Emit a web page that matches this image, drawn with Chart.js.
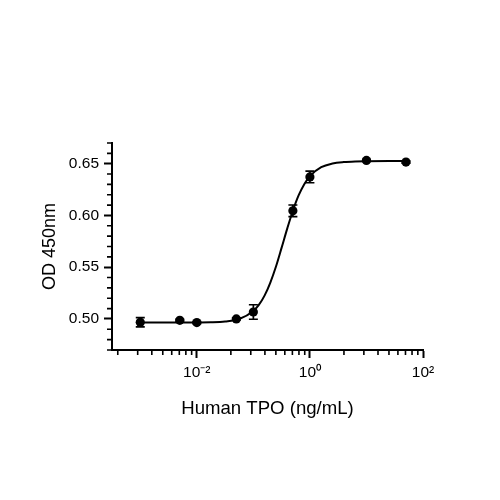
<!DOCTYPE html>
<html>
<head>
<meta charset="utf-8">
<script src="https://cdn.jsdelivr.net/npm/chart.js@4.4.1/dist/chart.umd.min.js"></script>
<style>
html, body { margin: 0; padding: 0; background: #fff; }
#wrap { width: 500px; height: 500px; }
</style>
</head>
<body>
<div id="wrap"><canvas id="chart" width="500" height="500"></canvas></div>
<script>
// measured points (ng/mL, OD 450nm, error)
const conc = [0.001, 0.005, 0.01, 0.05, 0.1, 0.5, 1, 10, 50];
const od = [0.4968, 0.4987, 0.4965, 0.5000, 0.5067, 0.6045, 0.6372, 0.6532, 0.6516];
const odErr = [0.0045, 0.001, 0.001, 0.001, 0.007, 0.0056, 0.0056, 0.001, 0.001];

// fitted curve (log10 concentration, OD)
const fitLogConc = [-3.0, -2.5, -2.0, -1.75, -1.5, -1.25, -1.0, -0.9, -0.8, -0.7, -0.6, -0.5,
    -0.4, -0.3, -0.2, -0.1, 0.0, 0.2, 0.4, 0.6, 0.8, 1.0, 1.4, 1.72];
const fitOd = [0.4965, 0.4965, 0.4966, 0.4968, 0.4976, 0.5000, 0.5077, 0.5138, 0.5228, 0.5352, 0.5507, 0.5689,
    0.5875, 0.6048, 0.6193, 0.6302, 0.6380, 0.6466, 0.6502, 0.6516, 0.6522, 0.6524, 0.6525, 0.6525];

// axis ticks
const xMajor = [-2, 0, 2];
const xLabels = ['10\u207B\u00B2', '10\u2070', '10\u00B2'];
const xMinorMult = [2, 3, 4, 5, 6, 7, 8, 9];
const yMajor = [0.50, 0.55, 0.60, 0.65];
const yMinor = [0.47, 0.48, 0.49, 0.51, 0.52, 0.53, 0.54, 0.56, 0.57, 0.58, 0.59, 0.61, 0.62, 0.63, 0.64, 0.66, 0.67];

const FONT = 'Liberation Sans, Arial, Helvetica, sans-serif';

// minor tick marks and error bars
const extras = {
    id: 'extras',
    afterDraw(chart) {
        const ctx = chart.ctx;
        const xs = chart.scales.x, ys = chart.scales.y;
        const area = chart.chartArea;
        ctx.save();
        ctx.strokeStyle = '#000';
        ctx.lineWidth = 1.6;
        ctx.beginPath();
        // x minor ticks (each labelled step spans two decades)
        [-4, -2, 0].forEach(base => {
            xMinorMult.forEach(m => {
                const v = base + 2 * Math.log10(m);
                if (v < xs.min || v > xs.max) return;
                const px = xs.getPixelForValue(v);
                ctx.moveTo(px, area.bottom);
                ctx.lineTo(px, area.bottom + 5);
            });
        });
        yMinor.forEach(v => {
            const py = ys.getPixelForValue(v);
            ctx.moveTo(area.left, py);
            ctx.lineTo(area.left - 5, py);
        });
        ctx.stroke();

        // error bars
        ctx.lineWidth = 1.7;
        ctx.beginPath();
        conc.forEach((c, i) => {
            const px = xs.getPixelForValue(Math.log10(c));
            const top = ys.getPixelForValue(od[i] + odErr[i]);
            const bot = ys.getPixelForValue(od[i] - odErr[i]);
            ctx.moveTo(px, top); ctx.lineTo(px, bot);
            ctx.moveTo(px - 4.5, top); ctx.lineTo(px + 4.5, top);
            ctx.moveTo(px - 4.5, bot); ctx.lineTo(px + 4.5, bot);
        });
        ctx.stroke();
        ctx.restore();
    }
};

window.addEventListener('load', () => {
    const ctx = document.getElementById('chart').getContext('2d');
    new Chart(ctx, {
        type: 'scatter',
        data: {
            datasets: [{
                data: conc.map((c, i) => ({ x: Math.log10(c), y: od[i] })),
                showLine: false,
                pointRadius: 4.6,
                pointBackgroundColor: '#000',
                pointBorderColor: '#000',
                pointBorderWidth: 0
            }, {
                data: fitLogConc.map((v, i) => ({ x: v, y: fitOd[i] })),
                showLine: true,
                borderColor: '#000',
                borderWidth: 2,
                pointRadius: 0,
                cubicInterpolationMode: 'monotone'
            }]
        },
        options: {
            responsive: false,
            animation: false,
            layout: { padding: { left: 0, top: 143, right: 77, bottom: 0 } },
            plugins: { legend: { display: false }, tooltip: { enabled: false } },
            scales: {
                x: {
                    type: 'linear',
                    min: -3.5,
                    max: 2,
                    afterBuildTicks: s => { s.ticks = xMajor.map(v => ({ value: v })); },
                    afterFit: s => { s.height = 150; },
                    ticks: {
                        color: '#000',
                        padding: 5,
                        maxRotation: 0,
                        font: { family: FONT, size: 15.5 },
                        callback: v => xLabels[xMajor.indexOf(v)]
                    },
                    grid: { display: true, drawOnChartArea: false, drawTicks: true, tickLength: 8, tickWidth: 2, tickColor: '#000' },
                    border: { display: true, color: '#000', width: 2 },
                    title: {
                        display: true,
                        text: 'Human TPO (ng/mL)',
                        color: '#000',
                        font: { family: FONT, size: 18.6 },
                        padding: { top: 0, bottom: 80 }
                    }
                },
                y: {
                    min: 0.47,
                    max: 0.67,
                    afterBuildTicks: s => { s.ticks = yMajor.map(v => ({ value: v })); },
                    afterFit: s => { s.width = 112; },
                    ticks: {
                        color: '#000',
                        padding: 5,
                        font: { family: FONT, size: 15.5 },
                        callback: v => v.toFixed(2)
                    },
                    grid: { display: true, drawOnChartArea: false, drawTicks: true, tickLength: 8, tickWidth: 2, tickColor: '#000' },
                    border: { display: true, color: '#000', width: 2 },
                    title: {
                        display: true,
                        text: 'OD 450nm',
                        color: '#000',
                        font: { family: FONT, size: 18 },
                        padding: { top: 39, bottom: 0 }
                    }
                }
            }
        },
        plugins: [extras]
    });
});
</script>
</body>
</html>
